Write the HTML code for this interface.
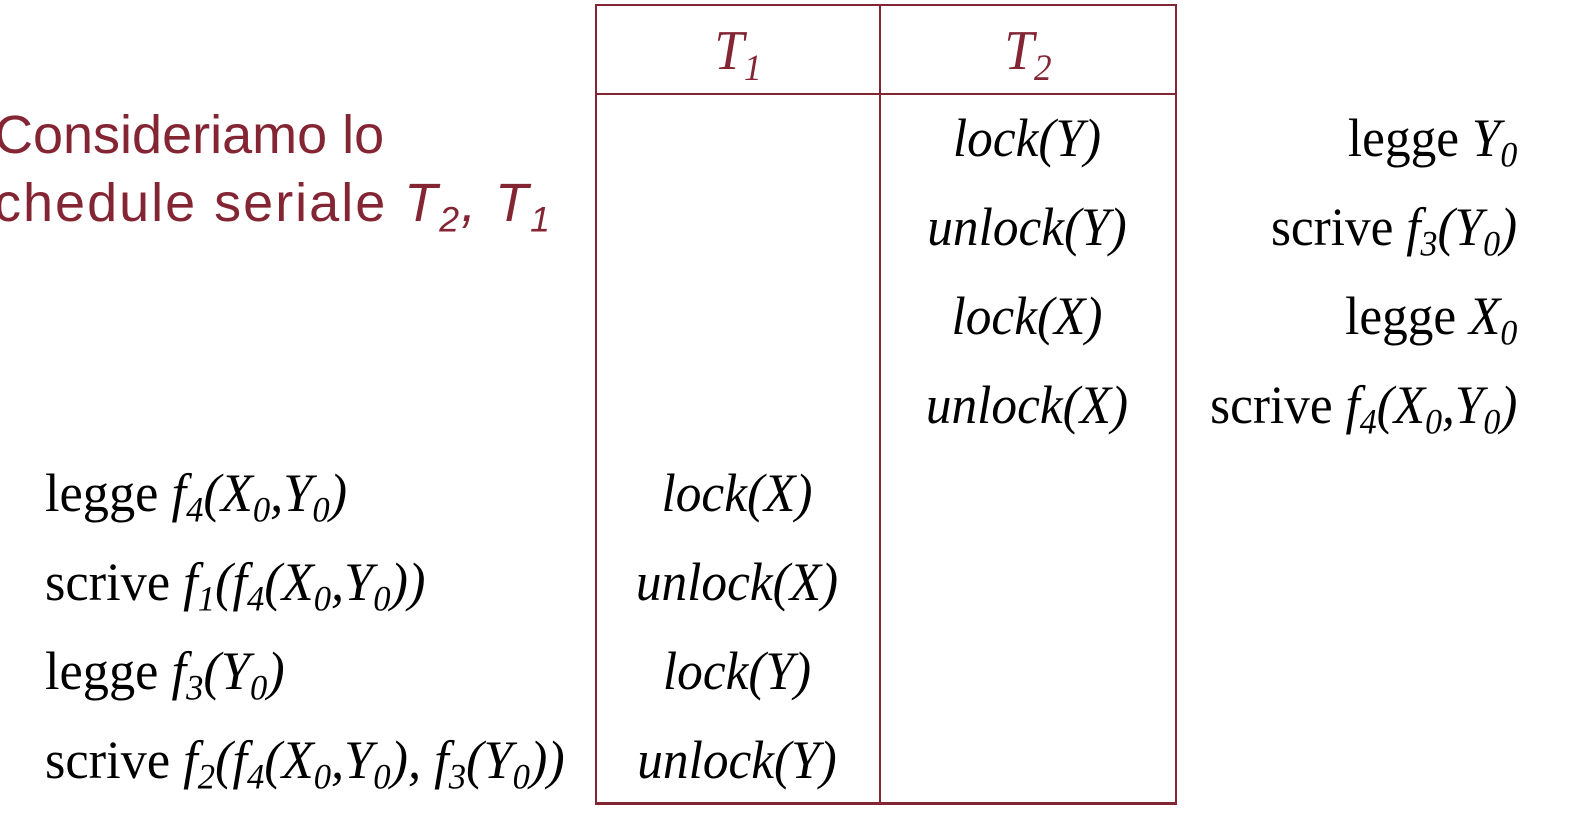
<!DOCTYPE html>
<html><head><meta charset="utf-8"><style>
body{margin:0;width:1580px;height:822px;background:#fff;position:relative;overflow:hidden}
.t{position:absolute;font-family:"Liberation Serif",serif;font-size:54px;line-height:54px;white-space:nowrap;color:#000}
.c{transform:translateX(-50%) scaleX(0.95);transform-origin:center}
.l{transform:scaleX(0.97);transform-origin:left}
.r{transform:scaleX(0.95);transform-origin:right}
i{font-style:italic}
sub{font-size:0.66em;vertical-align:-0.3em;line-height:0;font-style:italic}
.red{color:#842534}
.s{position:absolute;font-family:"Liberation Sans",sans-serif;font-size:54px;line-height:55px;color:#842534;white-space:nowrap}
.ln{position:absolute;background:#842534}
</style></head><body>
<div class="ln" style="left:595px;top:4px;width:582px;height:2px"></div>
<div class="ln" style="left:595px;top:93px;width:582px;height:2px"></div>
<div class="ln" style="left:595px;top:802px;width:582px;height:3px"></div>
<div class="ln" style="left:595px;top:4px;width:2px;height:801px"></div>
<div class="ln" style="left:879px;top:4px;width:2px;height:801px"></div>
<div class="ln" style="left:1175px;top:4px;width:2px;height:801px"></div>

<div class="t c red" style="left:738px;top:24px;font-size:56px"><i>T</i><sub>1</sub></div>
<div class="t c red" style="left:1028px;top:24px;font-size:56px"><i>T</i><sub>2</sub></div>

<div class="s" style="left:-6px;top:108px">Consideriamo lo</div>
<div class="s" style="left:-6px;top:176px;letter-spacing:2px">chedule seriale <i>T</i><sub style="font-style:italic">2</sub><i>,&nbsp;T</i><sub>1</sub></div>

<div class="t c" style="left:1027px;top:111px"><i>lock(Y)</i></div>
<div class="t c" style="left:1027px;top:200px"><i>unlock(Y)</i></div>
<div class="t c" style="left:1027px;top:289px"><i>lock(X)</i></div>
<div class="t c" style="left:1027px;top:378px"><i>unlock(X)</i></div>

<div class="t c" style="left:737px;top:466px"><i>lock(X)</i></div>
<div class="t c" style="left:737px;top:555px"><i>unlock(X)</i></div>
<div class="t c" style="left:737px;top:644px"><i>lock(Y)</i></div>
<div class="t c" style="left:737px;top:733px"><i>unlock(Y)</i></div>

<div class="t r" style="right:63px;top:111px">legge <i>Y</i><sub>0</sub></div>
<div class="t r" style="right:63px;top:200px">scrive <i>f</i><sub>3</sub><i>(Y</i><sub>0</sub><i>)</i></div>
<div class="t r" style="right:63px;top:289px">legge <i>X</i><sub>0</sub></div>
<div class="t r" style="right:63px;top:378px">scrive <i>f</i><sub>4</sub><i>(X</i><sub>0</sub><i>,Y</i><sub>0</sub><i>)</i></div>

<div class="t l" style="left:45px;top:466px">legge <i>f</i><sub>4</sub><i>(X</i><sub>0</sub><i>,Y</i><sub>0</sub><i>)</i></div>
<div class="t l" style="left:45px;top:555px">scrive <i>f</i><sub>1</sub><i>(f</i><sub>4</sub><i>(X</i><sub>0</sub><i>,Y</i><sub>0</sub><i>))</i></div>
<div class="t l" style="left:45px;top:644px">legge <i>f</i><sub>3</sub><i>(Y</i><sub>0</sub><i>)</i></div>
<div class="t l" style="left:45px;top:733px">scrive <i>f</i><sub>2</sub><i>(f</i><sub>4</sub><i>(X</i><sub>0</sub><i>,Y</i><sub>0</sub><i>), f</i><sub>3</sub><i>(Y</i><sub>0</sub><i>))</i></div>
</body></html>
